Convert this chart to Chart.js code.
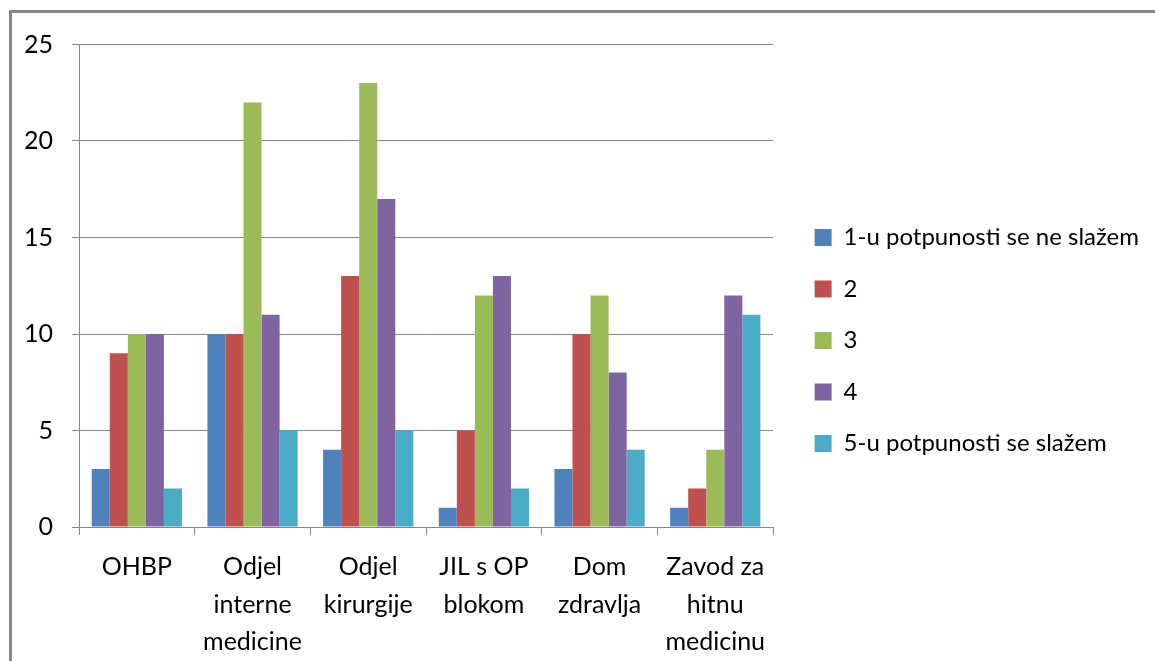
<!DOCTYPE html>
<html>
<head>
<meta charset="utf-8">
<script src="https://cdn.jsdelivr.net/npm/chart.js@4/dist/chart.umd.min.js"></script>
<style>
    body { margin: 0; background: #fff; overflow: hidden; }
    .frame { position: absolute; left: 9px; top: 10px; width: 1300px; height: 800px; border: 3px solid #878787; }
    .wrap { position: absolute; left: 5px; top: 13px; width: 1300px; height: 648px; }
</style>
</head>
<body>
<div class="frame"></div>
<div class="wrap"><canvas id="myChart"></canvas></div>
<script>
// kategorije (ustanove)
var categories = [
    'OHBP',
    ['Odjel', 'interne', 'medicine'],
    ['Odjel', 'kirurgije'],
    ['JIL s OP', 'blokom'],
    ['Dom', 'zdravlja'],
    ['Zavod za', 'hitnu', 'medicinu']
];
var seriesNames = ['1-u potpunosti se ne slažem', '2', '3', '4', '5-u potpunosti se slažem'];
var s1 = [3, 10, 4, 1, 3, 1];
var s2 = [9, 10, 13, 5, 10, 2];
var s3 = [10, 22, 23, 12, 12, 4];
var s4 = [10, 11, 17, 13, 8, 12];
var s5 = [2, 5, 5, 2, 4, 11];
var yMax = 25;
var yStep = 5;

var colors = ['#4F81BD', '#C0504D', '#9BBB59', '#8064A2', '#4BACC6'];
var values = [s1, s2, s3, s4, s5];

var datasets = values.map(function (v, i) {
    return {
        label: seriesNames[i],
        data: v,
        backgroundColor: colors[i],
        borderWidth: 0,
        categoryPercentage: 0.78,
        barPercentage: 1
    };
});

var gray = '#868686';
var xFont = { family: 'Lato', size: 25, lineHeight: 1.5 };
var yFont = { family: 'Lato', size: 25, lineHeight: 1 };
var legendFont = { family: 'Lato', size: 24 };

// legenda malo vise gore nego sto je Chart.js centrira
var legendShift = {
    id: 'legendShift',
    afterLayout: function (chart) {
        if (chart.legend) {
            chart.legend.top -= 12;
            chart.legend.bottom -= 12;
        }
    }
};

var ctx = document.getElementById('myChart').getContext('2d');
var myChart = new Chart(ctx, {
    type: 'bar',
    data: { labels: categories, datasets: datasets },
    plugins: [legendShift],
    options: {
        responsive: true,
        maintainAspectRatio: false,
        animation: false,
        layout: { padding: { top: 31, left: 0, right: 156, bottom: 0 } },
        plugins: {
            tooltip: { enabled: false },
            legend: {
                position: 'right',
                maxWidth: 500,
                labels: {
                    boxWidth: 17,
                    boxHeight: 17,
                    padding: 27.5,
                    color: '#000',
                    font: legendFont
                }
            }
        },
        scales: {
            x: {
                grid: { drawOnChartArea: false, drawTicks: true, tickLength: 8, color: gray },
                border: { color: gray },
                ticks: { color: '#000', font: xFont, padding: 13.5, maxRotation: 0, autoSkip: false },
                // bez dodatnog razmaka ispod etiketa
                afterFit: function (scale) { scale.height -= scale.options.ticks.padding; }
            },
            y: {
                min: 0,
                max: yMax,
                grid: { color: gray, tickLength: 7 },
                border: { color: gray },
                ticks: { stepSize: yStep, color: '#000', font: yFont, padding: 19 }
            },
            // prazan razmak izmedu grafa i legende
            gap: {
                position: 'right',
                display: true,
                grid: { display: false },
                border: { display: false },
                ticks: { display: false },
                afterFit: function (scale) { scale.width = 14; }
            }
        }
    }
});
</script>
</body>
</html>
